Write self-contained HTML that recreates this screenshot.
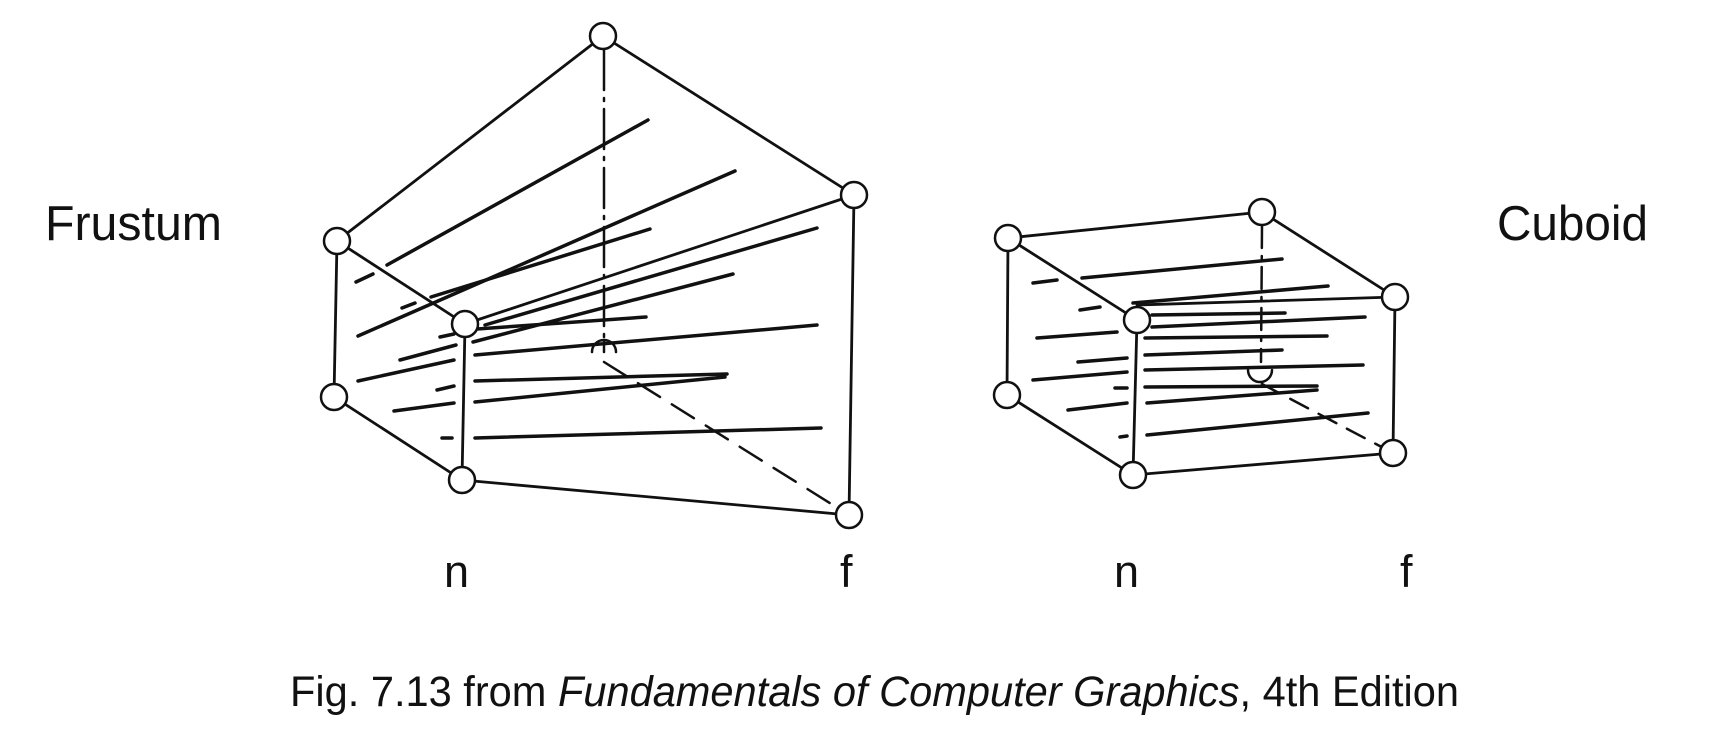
<!DOCTYPE html>
<html><head><meta charset="utf-8"><style>
html,body{margin:0;padding:0;background:#fff;}
svg{display:block;}
text{font-family:"Liberation Sans",Arial,sans-serif;fill:#111;}
</style></head><body>
<svg width="1726" height="748" viewBox="0 0 1726 748" xmlns="http://www.w3.org/2000/svg">
<rect width="1726" height="748" fill="#fff"/>
<text x="45" y="240" font-size="49" textLength="177" lengthAdjust="spacingAndGlyphs">Frustum</text>
<text x="1497" y="240" font-size="49" textLength="151" lengthAdjust="spacingAndGlyphs">Cuboid</text>
<text x="444" y="587" font-size="45">n</text>
<text x="840" y="587" font-size="45">f</text>
<text x="1114" y="587" font-size="45">n</text>
<text x="1400" y="587" font-size="45">f</text>
<text x="290" y="706" font-size="43" textLength="1169" lengthAdjust="spacingAndGlyphs">Fig. 7.13 from <tspan font-style="italic">Fundamentals of Computer Graphics</tspan>, 4th Edition</text>

<g stroke="#111" stroke-linecap="round" fill="none">
<!-- frustum hidden -->
<line x1="604" y1="50" x2="604" y2="338" stroke-width="2.5" stroke-dasharray="40 8 3 8"/>
<path d="M592 352 A12 12 0 0 1 616 352" stroke-width="2.5"/>
<line x1="604" y1="340" x2="604" y2="352" stroke-width="2.5"/>
<line x1="604" y1="362" x2="849" y2="515" stroke-width="2.5" stroke-dasharray="26 14"/>
<!-- frustum hatch -->
<g stroke-width="3.5">
<line x1="356" y1="282" x2="373" y2="274"/><line x1="387" y1="265" x2="648" y2="120"/>
<line x1="402" y1="308" x2="415" y2="303"/><line x1="431" y1="297" x2="650" y2="229"/>
<line x1="358" y1="336" x2="735" y2="171"/>
<line x1="485" y1="325" x2="817" y2="228"/>
<line x1="473" y1="342" x2="733" y2="274"/>
<line x1="440" y1="337" x2="454" y2="334"/><line x1="477" y1="329" x2="646" y2="317"/>
<line x1="400" y1="360" x2="456" y2="345"/><line x1="475" y1="355" x2="817" y2="325"/>
<line x1="358" y1="381" x2="454" y2="360"/>
<line x1="437" y1="390" x2="454" y2="386"/><line x1="475" y1="381" x2="727" y2="374"/>
<line x1="394" y1="411" x2="454" y2="403"/><line x1="475" y1="402" x2="725" y2="377"/>
<line x1="442" y1="438" x2="452" y2="438"/><line x1="475" y1="438" x2="821" y2="428"/>
</g>
<!-- frustum edges -->
<g stroke-width="2.8">
<line x1="603" y1="36" x2="337" y2="241"/>
<line x1="603" y1="36" x2="854" y2="195"/>
<line x1="337" y1="241" x2="465" y2="324"/>
<line x1="337" y1="241" x2="334" y2="397"/>
<line x1="334" y1="397" x2="462" y2="480"/>
<line x1="462" y1="480" x2="849" y2="515"/>
<line x1="854" y1="195" x2="849" y2="515"/>
<line x1="465" y1="324" x2="462" y2="480"/>
<line x1="854" y1="195" x2="465" y2="324"/>
</g>
<g stroke-width="2.5" fill="#fff">
<circle cx="603" cy="36" r="13"/><circle cx="854" cy="195" r="13"/>
<circle cx="337" cy="241" r="13"/><circle cx="465" cy="324" r="13"/>
<circle cx="334" cy="397" r="13"/><circle cx="462" cy="480" r="13"/>
<circle cx="849" cy="515" r="13"/>
</g>

<!-- cuboid hidden -->
<line x1="1262" y1="226" x2="1261" y2="362" stroke-width="2.5" stroke-dasharray="22 8 3 8"/>
<path d="M1248 370 A12 12 0 0 0 1272 370" stroke-width="2.5"/>
<line x1="1262" y1="384" x2="1393" y2="453" stroke-width="2.5" stroke-dasharray="20 12"/>
<g stroke-width="3.5">
<line x1="1033" y1="283" x2="1057" y2="280"/><line x1="1082" y1="278" x2="1282" y2="259"/>
<line x1="1080" y1="310" x2="1100" y2="307"/>
<line x1="1133" y1="303" x2="1328" y2="286"/>
<line x1="1152" y1="315" x2="1285" y2="313"/>
<line x1="1152" y1="327" x2="1365" y2="317"/>
<line x1="1037" y1="338" x2="1117" y2="332"/><line x1="1145" y1="338" x2="1327" y2="336"/>
<line x1="1078" y1="362" x2="1127" y2="358"/><line x1="1145" y1="355" x2="1282" y2="350"/>
<line x1="1033" y1="380" x2="1127" y2="372"/><line x1="1145" y1="370" x2="1363" y2="365"/>
<line x1="1115" y1="388" x2="1127" y2="388"/><line x1="1145" y1="387" x2="1317" y2="386"/>
<line x1="1068" y1="410" x2="1127" y2="403"/><line x1="1147" y1="403" x2="1317" y2="390"/>
<line x1="1120" y1="437" x2="1127" y2="436"/><line x1="1147" y1="435" x2="1368" y2="413"/>
</g>
<g stroke-width="2.8">
<line x1="1008" y1="238" x2="1262" y2="212"/>
<line x1="1262" y1="212" x2="1395" y2="297"/>
<line x1="1008" y1="238" x2="1137" y2="320"/>
<line x1="1137" y1="305" x2="1395" y2="297"/>
<line x1="1008" y1="238" x2="1007" y2="395"/>
<line x1="1007" y1="395" x2="1133" y2="475"/>
<line x1="1133" y1="475" x2="1393" y2="453"/>
<line x1="1395" y1="297" x2="1393" y2="453"/>
<line x1="1137" y1="320" x2="1133" y2="475"/>
</g>
<g stroke-width="2.5" fill="#fff">
<circle cx="1008" cy="238" r="13"/><circle cx="1262" cy="212" r="13"/>
<circle cx="1395" cy="297" r="13"/><circle cx="1137" cy="320" r="13"/>
<circle cx="1007" cy="395" r="13"/><circle cx="1133" cy="475" r="13"/>
<circle cx="1393" cy="453" r="13"/>
</g>
</g>
</svg>
</body></html>
